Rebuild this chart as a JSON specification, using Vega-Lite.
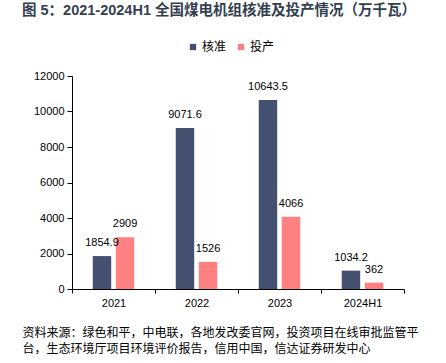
{
  "$schema": "https://vega.github.io/schema/vega-lite/v6.json",
  "width": 332,
  "height": 213,
  "autosize": {"type": "none"},
  "padding": {"left": 72, "top": 76, "right": 42, "bottom": 74},
  "background": "white",
  "title": {
    "text": "图 5：2021-2024H1 全国煤电机组核准及投产情况（万千瓦）",
    "anchor": "start",
    "frame": "group",
    "dx": -50,
    "dy": -19,
    "font": "Liberation Sans, Noto Sans CJK SC",
    "fontSize": 14.5,
    "fontWeight": "bold",
    "color": "#333f50"
  },
  "config": {
    "view": {"stroke": null},
    "font": "Liberation Sans, Noto Sans CJK SC"
  },
  "data": {
    "values": [
      {"year": "2021", "type": "核准", "value": 1854.9},
      {"year": "2021", "type": "投产", "value": 2909},
      {"year": "2022", "type": "核准", "value": 9071.6},
      {"year": "2022", "type": "投产", "value": 1526},
      {"year": "2023", "type": "核准", "value": 10643.5},
      {"year": "2023", "type": "投产", "value": 4066},
      {"year": "2024H1", "type": "核准", "value": 1034.2},
      {"year": "2024H1", "type": "投产", "value": 362}
    ]
  },
  "encoding": {
    "x": {
      "field": "year",
      "type": "nominal",
      "sort": null,
      "scale": {"paddingInner": 0, "paddingOuter": 0},
      "axis": {
        "title": ["资料来源：绿色和平，中电联，各地发改委官网，投资项目在线审批监管平", "台，生态环境厅项目环境评价报告，信用中国，信达证券研发中心"],
        "titleFont": "Noto Sans CJK SC",
        "titleFontSize": 12,
        "titleFontWeight": "normal",
        "titleColor": "#000000",
        "titleAnchor": "start",
        "titleAlign": "left",
        "titleBaseline": "top",
        "titleLineHeight": 16,
        "titleX": -50,
        "titleY": 38,
        "labelAngle": 0,
        "labelFontSize": 11,
        "labelColor": "#000000",
        "labelPadding": 4,
        "tickBand": "extent",
        "tickSize": 4,
        "tickColor": "#000000",
        "domainColor": "#000000",
        "grid": false
      }
    },
    "xOffset": {
      "field": "type",
      "type": "nominal",
      "sort": ["核准", "投产"],
      "scale": {"paddingInner": 0.2, "paddingOuter": 0.9}
    },
    "y": {
      "field": "value",
      "type": "quantitative",
      "scale": {"domain": [0, 12000], "nice": false},
      "axis": {
        "title": null,
        "values": [0, 2000, 4000, 6000, 8000, 10000, 12000],
        "format": "d",
        "labelOverlap": false,
        "labelFontSize": 11,
        "labelColor": "#000000",
        "labelPadding": 3,
        "tickSize": 5,
        "tickColor": "#000000",
        "domainColor": "#000000",
        "grid": false
      }
    }
  },
  "layer": [
    {
      "mark": {"type": "bar"},
      "encoding": {
        "color": {
          "field": "type",
          "type": "nominal",
          "sort": ["核准", "投产"],
          "scale": {"domain": ["核准", "投产"], "range": ["#44506f", "#ff8080"]},
          "legend": {
            "title": null,
            "orient": "none",
            "direction": "horizontal",
            "legendX": 115,
            "legendY": -35,
            "symbolType": "square",
            "symbolSize": 40,
            "symbolStrokeWidth": 0,
            "labelFontSize": 12,
            "labelFont": "Noto Sans CJK SC",
            "labelColor": "#000000",
            "labelOffset": 3,
            "columnPadding": 8
          }
        }
      }
    },
    {
      "mark": {"type": "text", "baseline": "bottom", "dy": -8, "fontSize": 11, "color": "#000000"},
      "encoding": {
        "text": {"field": "value", "type": "nominal"}
      }
    }
  ]
}
